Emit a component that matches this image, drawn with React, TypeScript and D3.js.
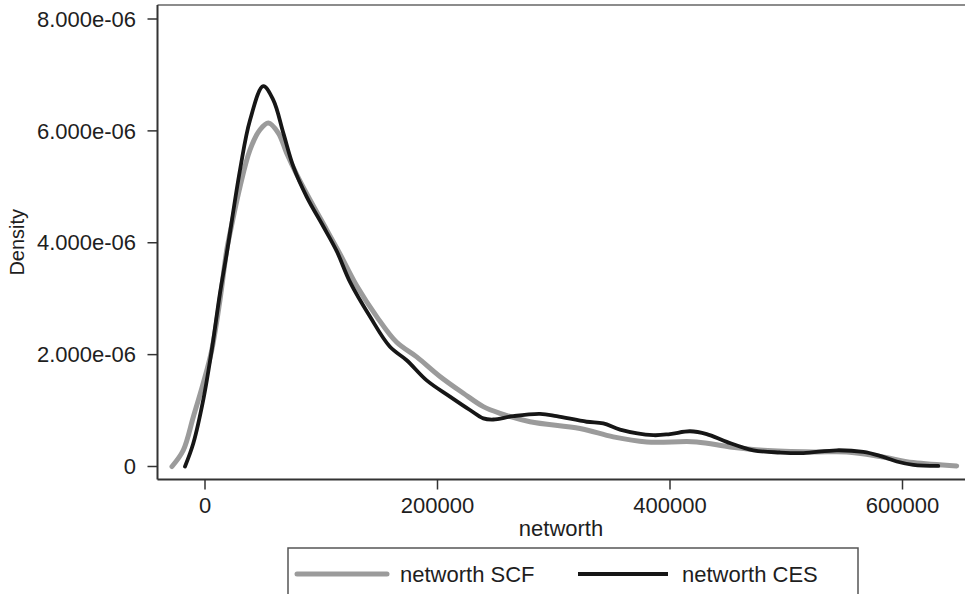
import React from 'react';
import * as d3 from 'd3';

// networth values (x) and kernel density (in units of 1e-6)
const scfNetworth = [-28400, -18700, -10000, -1500, 5800, 12900, 18700, 21500, 30100, 38700, 47300, 54500, 63100, 70300, 78900, 90300, 104700, 116100, 130500, 147700, 164900, 182100, 202100, 222200, 239400, 253800, 279600, 322600, 351200, 380000, 423000, 451600, 480300, 523300, 552000, 580600, 609300, 646600];
const scfDensity = [0, 0.29, 0.89, 1.49, 2.08, 2.98, 3.87, 4.17, 5.0, 5.66, 6.02, 6.14, 5.96, 5.6, 5.22, 4.77, 4.23, 3.8, 3.23, 2.68, 2.22, 1.96, 1.61, 1.31, 1.07, 0.95, 0.8, 0.68, 0.53, 0.44, 0.44, 0.35, 0.29, 0.26, 0.26, 0.18, 0.07, 0.01];

const cesNetworth = [-17200, -10100, -1500, 5800, 12900, 18700, 30100, 38700, 50100, 58800, 67400, 76000, 87500, 101800, 113300, 124700, 141900, 159100, 173500, 190700, 210700, 227900, 239400, 248000, 265200, 288200, 302500, 328300, 342600, 357000, 385600, 400000, 417200, 431600, 448800, 471700, 494600, 514700, 543400, 566300, 580600, 595000, 609300, 630800];
const cesDensity = [0, 0.41, 1.19, 2.08, 3.1, 3.81, 5.3, 6.19, 6.8, 6.55, 5.96, 5.36, 4.82, 4.29, 3.85, 3.3, 2.68, 2.14, 1.9, 1.54, 1.25, 1.01, 0.86, 0.84, 0.9, 0.94, 0.9, 0.8, 0.77, 0.66, 0.56, 0.58, 0.63, 0.58, 0.44, 0.29, 0.25, 0.24, 0.29, 0.26, 0.19, 0.09, 0.03, 0.01];

const xTicks = [0, 200000, 400000, 600000];
const xTickLabels = ['0', '200000', '400000', '600000'];
const yTicks = [0, 2e-6, 4e-6, 6e-6, 8e-6];
const yTickLabels = ['0', '2.000e-06', '4.000e-06', '6.000e-06', '8.000e-06'];
const seriesNames = ['networth SCF', 'networth CES'];

const W = 965;
const H = 594;
const FONT = 'Liberation Sans, Arial, Helvetica, sans-serif';
const TEXT = '#1e1e1e';
const AXIS = '#333333';

const left = 157.5;
const right = 966;
const top = 5;
const bottom = 479.5;

export default function App() {
  const x = d3.scaleLinear().domain([0, 600000]).range([205, 902.5]);
  const y = d3.scaleLinear().domain([0, 8e-6]).range([466.5, 19]);

  const line = d3
    .line<[number, number]>()
    .x(d => x(d[0]))
    .y(d => y(d[1] * 1e-6))
    .curve(d3.curveCatmullRom.alpha(0.5));

  const scf = scfNetworth.map((v, i) => [v, scfDensity[i]] as [number, number]);
  const ces = cesNetworth.map((v, i) => [v, cesDensity[i]] as [number, number]);

  const legX = 288;
  const legY = 548;

  return (
    <svg width={W} height={H} style={{ position: 'absolute', left: 0, top: 0, background: '#fff' }} fontFamily={FONT}>
      <rect x={0} y={0} width={W} height={H} fill="#fff" />

      {/* plot frame */}
      <line x1={left} x2={right} y1={top} y2={top} stroke="#666" strokeWidth={1.5} />
      <line x1={left} x2={left} y1={top} y2={bottom} stroke={AXIS} strokeWidth={2} />
      <line x1={left} x2={right} y1={bottom} y2={bottom} stroke={AXIS} strokeWidth={2} />

      {/* y axis */}
      {yTicks.map((t, i) => (
        <g key={'y' + i}>
          <line x1={left - 10} x2={left} y1={y(t)} y2={y(t)} stroke={AXIS} strokeWidth={1.5} />
          <text x={136} y={y(t)} dy="0.35em" textAnchor="end" fontSize={22} fill={TEXT}>
            {yTickLabels[i]}
          </text>
        </g>
      ))}
      <text
        transform={`translate(24,${(top + bottom) / 2}) rotate(-90)`}
        textAnchor="middle"
        fontSize={20}
        fill={TEXT}
      >
        Density
      </text>

      {/* x axis */}
      {xTicks.map((t, i) => (
        <g key={'x' + i}>
          <line x1={x(t)} x2={x(t)} y1={bottom} y2={bottom + 10} stroke={AXIS} strokeWidth={1.5} />
          <text x={x(t)} y={513} textAnchor="middle" fontSize={22} fill={TEXT}>
            {xTickLabels[i]}
          </text>
        </g>
      ))}
      <text x={561} y={536} textAnchor="middle" fontSize={22} fill={TEXT}>
        networth
      </text>

      {/* curves */}
      <path d={line(scf) || ''} fill="none" stroke="#9b9b9b" strokeWidth={5} strokeLinecap="round" strokeLinejoin="round" />
      <path d={line(ces) || ''} fill="none" stroke="#161616" strokeWidth={3.8} strokeLinecap="round" strokeLinejoin="round" />

      {/* legend */}
      <rect x={legX} y={legY} width={570} height={60} fill="#fff" stroke="#555" strokeWidth={1.5} />
      <line x1={legX + 9} x2={legX + 99} y1={574} y2={574} stroke="#9b9b9b" strokeWidth={5} strokeLinecap="round" />
      <text x={legX + 112} y={574} dy="0.35em" fontSize={22} fill={TEXT}>
        {seriesNames[0]}
      </text>
      <line x1={legX + 290} x2={legX + 380} y1={574} y2={574} stroke="#161616" strokeWidth={3.8} />
      <text x={legX + 394} y={574} dy="0.35em" fontSize={22} fill={TEXT}>
        {seriesNames[1]}
      </text>
    </svg>
  );
}
